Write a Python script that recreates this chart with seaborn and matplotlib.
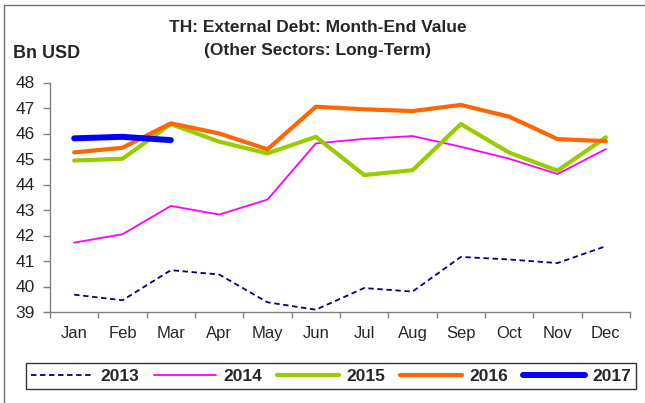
import matplotlib
matplotlib.use("Agg")
import matplotlib.pyplot as plt
from matplotlib.lines import Line2D
from matplotlib.ticker import FixedLocator
import numpy as np
import pandas as pd
import seaborn as sns

months = ["Jan", "Feb", "Mar", "Apr", "May", "Jun",
          "Jul", "Aug", "Sep", "Oct", "Nov", "Dec"]

debt_2013 = [39.68, 39.46, 40.64, 40.47, 39.38, 39.09,
             39.94, 39.80, 41.16, 41.06, 40.92, 41.58]
debt_2014 = [41.72, 42.05, 43.16, 42.82, 43.41, 45.61,
             45.79, 45.90, 45.48, 45.01, 44.41, 45.39]
debt_2015 = [44.94, 45.01, 46.37, 45.68, 45.22, 45.87,
             44.37, 44.56, 46.37, 45.25, 44.54, 45.85]
debt_2016 = [45.26, 45.44, 46.40, 46.00, 45.38, 47.05,
             46.95, 46.88, 47.12, 46.66, 45.78, 45.70]
debt_2017 = [45.81, 45.87, 45.74]

years = ["2013", "2014", "2015", "2016", "2017"]
series = [debt_2013, debt_2014, debt_2015, debt_2016, debt_2017]
colors = ["#000080", "#FF00FF", "#99CC00", "#FF6600", "#0000FF"]
widths = [1.3, 1.3, 3.0, 3.0, 4.3]
styles = [(0, (3, 2)), "-", "-", "-", "-"]

sns.set_theme(style="white")
plt.rcParams["font.family"] = ["Liberation Sans", "DejaVu Sans"]

fig = plt.figure(figsize=(6.45, 4.03), dpi=100)
ax = fig.add_axes([50 / 645, 1 - 312 / 403, 580 / 645, 229.5 / 403])

for year, vals, c, lw, ls in zip(years, series, colors, widths, styles):
    df = pd.DataFrame({"month": np.arange(len(vals)), "value": vals})
    sns.lineplot(data=df, x="month", y="value", ax=ax, color=c,
                 linewidth=lw, linestyle=ls, label=year,
                 solid_capstyle="round", dash_capstyle="butt")

ax.set_xlim(-0.5, 11.5)
ax.set_ylim(39, 48)
ax.set_xlabel("")
ax.set_ylabel("")

ax.set_xticks(np.arange(12))
ax.set_xticklabels(months)
ax.xaxis.set_minor_locator(FixedLocator(np.arange(-0.5, 12, 1)))
ax.tick_params(axis="x", which="major", length=0, pad=10, labelsize=12)
ax.tick_params(axis="x", which="minor", length=4, width=1,
               color="#808080", direction="out", bottom=True)
ax.set_yticks(np.arange(39, 49, 1))
ax.tick_params(axis="y", length=5, width=1, color="#808080",
               direction="out", left=True, pad=6, labelsize=12.5)

for side in ["top", "right"]:
    ax.spines[side].set_visible(False)
for side in ["left", "bottom"]:
    ax.spines[side].set_color("#808080")
    ax.spines[side].set_linewidth(1.0)

fig.text(318 / 645, 1 - 27 / 403, "TH: External Debt: Month-End Value",
         ha="center", va="center", fontsize=12.5, fontweight="bold")
fig.text(318 / 645, 1 - 50 / 403, "(Other Sectors: Long-Term)",
         ha="center", va="center", fontsize=12.5, fontweight="bold")
fig.text(13 / 645, 1 - 53 / 403, "Bn USD", ha="left", va="center",
         fontsize=13, fontweight="bold")

handles, labels = ax.get_legend_handles_labels()
leg = fig.legend(handles, labels, loc="center",
                 bbox_to_anchor=(331 / 645, 1 - 376 / 403),
                 ncol=5, frameon=True, fancybox=False, handlelength=3.6,
                 handletextpad=0.4, columnspacing=0.85, borderpad=0.3,
                 prop={"weight": "bold", "size": 12.5})
leg.get_frame().set_edgecolor("black")
leg.get_frame().set_linewidth(1.0)
ax.get_legend().remove()

# outer frame lines along the top and left edges
fig.add_artist(Line2D([4 / 645, 1], [1 - 5 / 403, 1 - 5 / 403],
                      transform=fig.transFigure, color="#707070", lw=1))
fig.add_artist(Line2D([4 / 645, 4 / 645], [0, 1 - 5 / 403],
                      transform=fig.transFigure, color="#707070", lw=1))

fig.savefig("out.png", dpi=100)
